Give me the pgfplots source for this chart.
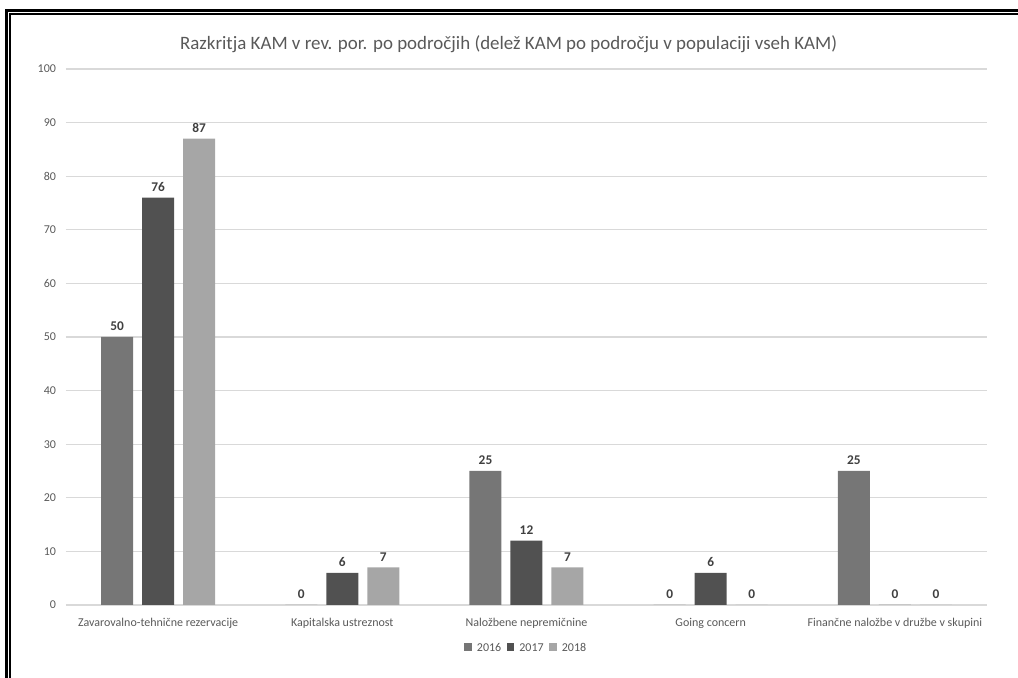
\documentclass[border=0pt]{standalone}
\usepackage{fontspec}
\setmainfont{Carlito}
\usepackage{pgfplots}
\pgfplotsset{compat=1.18}
\definecolor{c2016}{HTML}{767676}
\definecolor{c2017}{HTML}{515151}
\definecolor{c2018}{HTML}{A6A6A6}
\definecolor{txt}{HTML}{595959}
\definecolor{lbl}{HTML}{404040}
\definecolor{grd}{HTML}{D9D9D9}

\begin{document}
\begin{tikzpicture}
\path[use as bounding box] (-49.5pt,-54.75pt) rectangle (714pt,453.75pt);
% double frame
\draw[line width=1.6pt] (-44.6pt,-80pt) |- (740pt,445.9pt);
\draw[line width=0.8pt] (-42pt,-80pt) |- (740pt,443.25pt);
\begin{axis}[
  at={(0,0)}, anchor=south west,
  scale only axis, width=690.75pt, height=402pt,
  xmin=-0.5, xmax=4.5, ymin=0, ymax=100,
  ytick={0,10,...,100},
  xtick={0,1,2,3,4},
  xticklabels={Zavarovalno-tehnične rezervacije, Kapitalska ustreznost, Naložbene nepremičnine, Going concern, Finančne naložbe v družbe v skupini},
  /pgf/number format/assume math mode=true,
  ymajorgrids, major grid style={grd, line width=0.8pt},
  axis line style={draw=none},
  tick style={draw=none},
  tick label style={font=\fontsize{9}{11}\selectfont, text=txt},
  xticklabel style={yshift=-2pt},
  yticklabel style={xshift=-4pt},
  ybar=6.75pt, bar width=24pt,
  nodes near coords={\pgfmathprintnumber{\pgfplotspointmeta}},
  every node near coord/.append style={font=\fontsize{10}{12}\selectfont\bfseries, text=lbl, yshift=1pt},
  legend style={at={(axis description cs:0.5,0)}, anchor=center, yshift=-31.5pt,
    draw=none, font=\fontsize{9}{11}\selectfont, text=txt, column sep=2pt,
    nodes={text height=1.5ex, text depth=0.2ex}},
  legend columns=3,
  legend image code/.code={\fill[#1] (0pt,-2.8pt) rectangle (5.6pt,2.8pt);},
]
\addplot[fill=c2016, draw=none] coordinates {(0,50) (1,0) (2,25) (3,0) (4,25)};
\addplot[fill=c2017, draw=none] coordinates {(0,76) (1,6) (2,12) (3,6) (4,0)};
\addplot[fill=c2018, draw=none] coordinates {(0,87) (1,7) (2,7) (3,0) (4,0)};
\legend{2016, 2017, 2018}
\end{axis}
\node[text=txt, font=\fontsize{14.2}{17}\selectfont] at (332pt,420.75pt)
  {Razkritja KAM v rev. por. po področjih (delež KAM po področju v populaciji vseh KAM)};
\end{tikzpicture}
\end{document}
